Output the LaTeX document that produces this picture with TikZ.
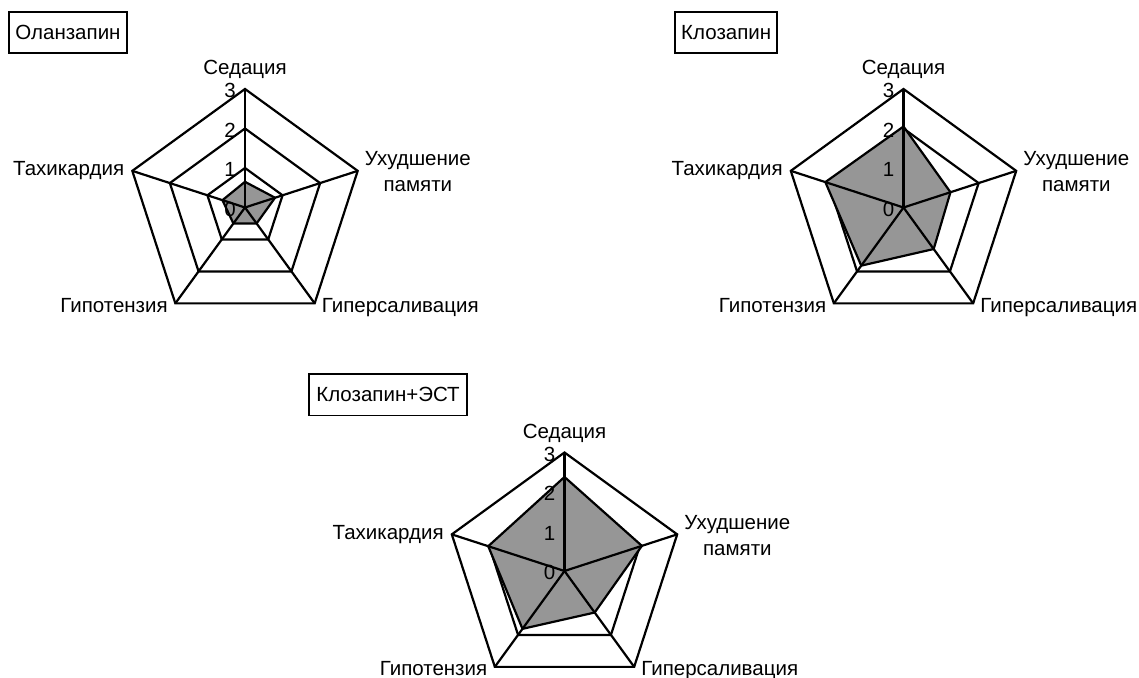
\documentclass[tikz,border=0pt]{standalone}
\usepackage{fontspec}
\setmainfont{Liberation Sans}
\usetikzlibrary{calc}
\definecolor{fillgray}{RGB}{150,150,150}
\newcommand\radarchart[8]{%
  \begin{scope}[shift={(#2,#3)}]
    \coordinate (#1-c) at (0,0);
    \coordinate (#1-v1) at (90:118.5);
    \coordinate (#1-v2) at (18:118.5);
    \coordinate (#1-v3) at (-54:118.5);
    \coordinate (#1-v4) at (-126:118.5);
    \coordinate (#1-v5) at (162:118.5);
    \foreach \k in {1,2,3}{
      \draw[gridline] (90:{\k*39.5}) -- (18:{\k*39.5}) -- (-54:{\k*39.5}) -- (-126:{\k*39.5}) -- (162:{\k*39.5}) -- cycle;
    }
    \draw[datapoly] (90:{#4*39.5}) -- (18:{#5*39.5}) -- (-54:{#6*39.5}) -- (-126:{#7*39.5}) -- (162:{#8*39.5}) -- cycle;
    \foreach \j in {1,...,5}{
      \draw[gridline] (#1-c) -- (#1-v\j);
    }
    \foreach \k in {0,1,2,3}{
      \node[ticklbl] (#1-t\k) at (-9,{\k*39.5-1.5}) {\k};
    }
    \node[axlbl, anchor=base] (#1-l1) at ([yshift=14bp]#1-v1) {Седация};
    \node[axlbl, anchor=west, align=center] (#1-l2) at ([xshift=7bp,yshift=-1bp]#1-v2) {Ухудшение\\памяти};
    \node[axlbl, anchor=base west] (#1-l3) at ([xshift=7bp,yshift=-8.7bp]#1-v3) {Гиперсаливация};
    \node[axlbl, anchor=base east] (#1-l4) at ([xshift=-7.5bp,yshift=-8.7bp]#1-v4) {Гипотензия};
    \node[axlbl, anchor=base east] (#1-l5) at ([xshift=-8bp,yshift=-5bp]#1-v5) {Тахикардия};
  \end{scope}%
}
\begin{document}
\begin{tikzpicture}[x=1bp,y=1bp,
  gridline/.style={line width=2.2bp, line join=miter},
  datapoly/.style={draw=black, fill=fillgray, line width=2.2bp, line join=miter},
  ticklbl/.style={anchor=east, inner sep=0pt, font=\fontsize{20.5bp}{24bp}\selectfont},
  axlbl/.style={inner sep=0pt, font=\fontsize{20.5bp}{26bp}\selectfont},
  titlebox/.style={draw, line width=1.8bp, inner sep=0pt, minimum height=41.6bp, font=\fontsize{20.5bp}{24bp}\selectfont}]
  \useasboundingbox (0,0) rectangle (1139,678);
  \radarchart{a}{245}{470.5}{0.65}{0.8}{0.5}{0.5}{0.6}
  \radarchart{b}{903.5}{470.5}{2.05}{1.25}{1.3}{1.82}{2.08}
  \radarchart{c}{564.5}{107}{2.38}{2.06}{1.3}{1.81}{2.03}
  \node[titlebox, minimum width=117.4bp] (ta) at (68,645.5) {Оланзапин};
  \node[titlebox, minimum width=102.3bp] (tb) at (726.2,645.5) {Клозапин};
  \node[titlebox, minimum width=157.4bp] (tc) at (388,283.2) {Клозапин+ЭСТ};
\end{tikzpicture}
\end{document}
